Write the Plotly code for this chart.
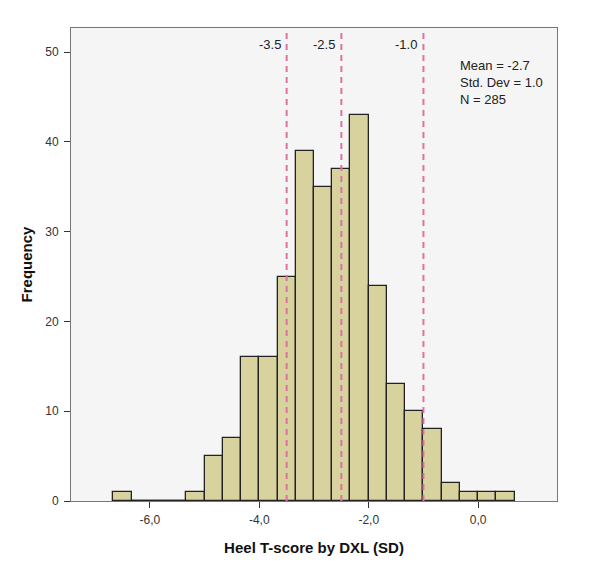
import numpy as np
import plotly.graph_objects as go

# histogram of heel T-score, bins of 1/3 SD starting at -6.667
bin_start = -20 / 3
bin_width = 1 / 3
counts = [1, 0, 0, 0, 1, 5, 7, 16, 16, 25, 39, 35, 37, 43, 24, 13, 10, 8, 2, 1, 1, 1]

x_tickvals = [-6, -4, -2, 0]
x_ticktext = ["-6,0", "-4,0", "-2,0", "0,0"]
y_tickvals = [0, 10, 20, 30, 40, 50]

ref_lines = [-3.5, -2.5, -1.0]
ref_labels = ["-3.5", "-2.5", "-1.0"]

stats_text = "Mean = -2.7<br>Std. Dev = 1.0<br>N = 285"

centers = bin_start + bin_width * (np.arange(len(counts)) + 0.5)

fig = go.Figure()

fig.add_trace(
    go.Bar(
        x=centers,
        y=counts,
        width=bin_width,
        marker=dict(color="#d8d39e", line=dict(color="#222222", width=1.3)),
        showlegend=False,
    )
)

# empty bins drawn as a heavy baseline like SPSS does
empty = [i for i, c in enumerate(counts) if c == 0]
if empty:
    fig.add_trace(
        go.Scatter(
            x=[bin_start + bin_width * empty[0], bin_start + bin_width * (empty[-1] + 1)],
            y=[0, 0],
            mode="lines",
            line=dict(color="#222222", width=2.5),
            showlegend=False,
            cliponaxis=False,
        )
    )

for xv, lab in zip(ref_lines, ref_labels):
    fig.add_shape(
        type="line", x0=xv, x1=xv, y0=0, y1=1, yref="paper",
        line=dict(color="#dc73a0", width=2, dash="6px,5px"),
    )
    fig.add_annotation(
        x=xv, y=1, yref="paper", yanchor="top", xanchor="right", xshift=-4, yshift=-7,
        text=lab, showarrow=False, font=dict(size=13, color="#222222"),
    )

fig.add_annotation(
    x=0.797, y=0.94, xref="paper", yref="paper", xanchor="left", yanchor="top",
    text=stats_text, showarrow=False, align="left",
    font=dict(size=13, color="#222222"),
)

fig.update_layout(
    width=592,
    height=567,
    margin=dict(l=63, r=43, t=20, b=74),
    paper_bgcolor="white",
    plot_bgcolor="#f5f5f5",
    font=dict(family="Liberation Sans, Arial, sans-serif", size=12, color="#333333"),
    bargap=0,
    xaxis=dict(
        title=dict(text="<b>Heel T-score by DXL (SD)</b>", font=dict(size=15, color="#111111"), standoff=16),
        range=[-7.44, 1.44],
        tickvals=x_tickvals,
        ticktext=x_ticktext,
        ticks="outside",
        ticklen=6,
        ticklabelstandoff=2,
        tickcolor="#333333",
        showgrid=False,
        zeroline=False,
        showline=True,
        linecolor="#777777",
        mirror=True,
    ),
    yaxis=dict(
        title=dict(text="<b>Frequency</b>", font=dict(size=15, color="#111111"), standoff=8),
        range=[0, 52.7],
        tickvals=y_tickvals,
        ticks="outside",
        ticklen=6,
        ticklabelstandoff=3,
        tickcolor="#333333",
        showgrid=False,
        zeroline=False,
        showline=True,
        linecolor="#777777",
        mirror=True,
    ),
)

fig.write_html("out.html")
